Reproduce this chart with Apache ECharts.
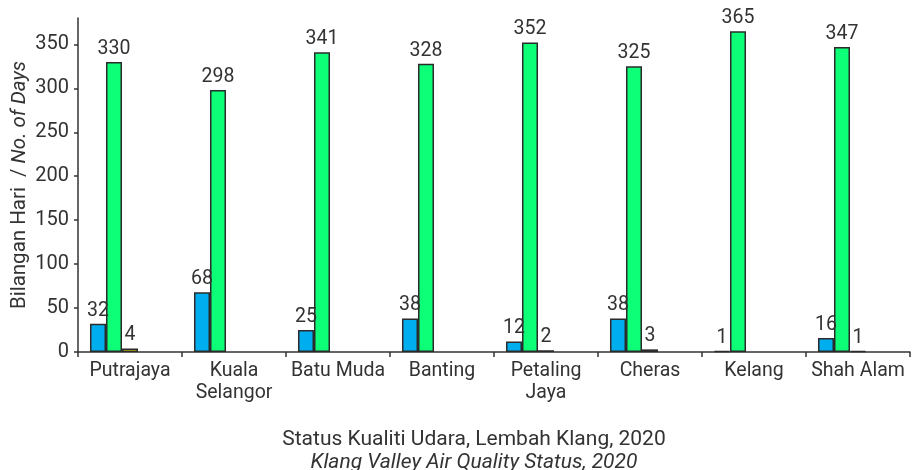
<!DOCTYPE html>
<html>
<head>
<meta charset="utf-8">
<script src="https://cdn.jsdelivr.net/npm/echarts@6/dist/echarts.min.js"></script>
<style>
  html, body { margin: 0; padding: 0; background: #fff; }
  #chart { width: 917px; height: 470px; }
</style>
</head>
<body>
<div id="chart"></div>
<script>
// stesen / stations
const stations = ['Putrajaya', 'Kuala\nSelangor', 'Batu Muda', 'Banting', 'Petaling\nJaya', 'Cheras', 'Kelang', 'Shah Alam'];
// bilangan hari mengikut status IPU
const baik = [32, 68, 25, 38, 12, 38, 1, 16];
const sederhana = [330, 298, 341, 328, 352, 325, 365, 347];
const tidakSihat = [4, '-', '-', '-', 2, 3, '-', 1];
// no days recorded in these classes, kept so the bar slots line up
const sangatTidakSihat = [];
const berbahaya = [];
const yTicks = [0, 50, 100, 150, 200, 250, 300, 350];

const font = 'Roboto, "DejaVu Sans", sans-serif';
const textColor = '#333';

const barStyle = (color) => ({
    color: color,
    borderColor: '#2b2b2b',
    borderWidth: 1.5,
});

const barLabel = {
    show: true,
    position: 'top',
    distance: 3,
    color: textColor,
    fontFamily: font,
    fontSize: 19.5,
};

const chart = echarts.init(document.getElementById('chart'));
chart.setOption({
    animation: false,
    textStyle: { fontFamily: font },
    title: {
        left: 469,
        top: 423,
        textAlign: 'center',
        text: '{a|Status Kualiti Udara, Lembah Klang, 2020}\n{b|Klang Valley Air Quality Status, 2020}',
        textStyle: {
            fontWeight: 'normal',
            rich: {
                a: { fontFamily: font, fontSize: 21, fontWeight: 'normal', color: textColor, lineHeight: 23 },
                b: { fontFamily: font, fontSize: 21, fontWeight: 'normal', color: textColor, fontStyle: 'italic', lineHeight: 23 },
            },
        },
    },
    grid: {
        left: 78,
        right: 7,
        top: 18,
        bottom: 118,
        outerBoundsMode: 'none',
        containLabel: false,
    },
    xAxis: {
        type: 'category',
        data: stations,
        axisLine: { lineStyle: { color: '#333', width: 1.5 } },
        axisTick: { show: true, length: 5, lineStyle: { color: '#333', width: 1.5 } },
        axisLabel: {
            color: textColor,
            fontFamily: font,
            fontSize: 19.5,
            lineHeight: 22,
            margin: 8,
            interval: 0,
        },
    },
    yAxis: {
        type: 'value',
        min: 0,
        max: 380,
        interval: 50,
        name: '{a|Bilangan Hari  / }{b|No. of Days}',
        nameLocation: 'middle',
        nameGap: 48,
        nameRotate: 90,
        nameMoveOverlap: false,
        nameTextStyle: {
            rich: {
                a: { fontFamily: font, fontSize: 20.5, color: textColor },
                b: { fontFamily: font, fontSize: 20.5, color: textColor, fontStyle: 'italic' },
            },
        },
        axisLine: { show: true, lineStyle: { color: '#333', width: 1.5 } },
        axisTick: { show: true, length: 4, customValues: yTicks, lineStyle: { color: '#333', width: 1.5 } },
        axisLabel: {
            customValues: yTicks,
            color: textColor,
            fontFamily: font,
            fontSize: 20,
            margin: 9,
        },
        splitLine: { show: false },
    },
    series: [
        { name: 'Baik', type: 'bar', data: baik, barWidth: 16, barGap: '0%', barCategoryGap: '23%', itemStyle: barStyle('#00aeef'), label: barLabel },
        { name: 'Sederhana', type: 'bar', data: sederhana, barWidth: 16, itemStyle: barStyle('#0dff78'), label: barLabel },
        { name: 'Tidak Sihat', type: 'bar', data: tidakSihat, barWidth: 16, itemStyle: barStyle('#f2e600'), label: barLabel },
        { name: 'Sangat Tidak Sihat', type: 'bar', data: sangatTidakSihat, barWidth: 16, itemStyle: barStyle('#f39200'), label: barLabel },
        { name: 'Berbahaya', type: 'bar', data: berbahaya, barWidth: 16, itemStyle: barStyle('#e30613'), label: barLabel },
    ],
});
</script>
</body>
</html>
